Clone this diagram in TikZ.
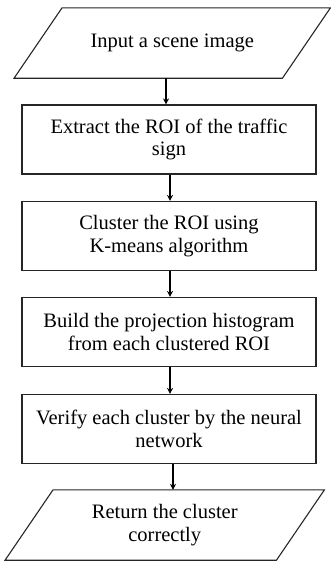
\documentclass[tikz,border=0pt]{standalone}
\usepackage{fontspec}
\setmainfont{Liberation Serif}
\usetikzlibrary{calc,arrows.meta}
\begin{document}
\begin{tikzpicture}[x=1pt,y=-1pt,
  outline/.style={draw=black!85,line width=1.1pt},
  stepbox/.style={outline,minimum width=294pt,minimum height=69pt,inner sep=0pt,align=center,font=\fontsize{20.5}{22.5}\selectfont},
  iobox/.style={minimum width=268pt,minimum height=70pt,inner sep=0pt,align=center,font=\fontsize{20.5}{22.5}\selectfont},
  arr/.style={draw=black,line width=1.1pt,-{Stealth[length=6pt,width=6pt]}}]
\useasboundingbox (0,0) rectangle (330,563);

% input / output parallelograms (text nodes carry the frame)
\node[iobox] (in) at (172.25,43) {\raisebox{-2pt}{Input a scene image}};
\draw[outline] ($(in.south west)+(-24,0)$) -- ($(in.south east)+(-24,0)$)
  -- ($(in.north east)+(24,0)$) -- ($(in.north west)+(24,0)$) -- cycle;

\node[stepbox] (s1) at (169,139.5) {Extract the ROI of the traffic\\sign};
\node[stepbox] (s2) at (169,236) {Cluster the ROI using\\K-means algorithm};
\node[stepbox] (s3) at (169,332) {Build the projection histogram\\from each clustered ROI};
\node[stepbox] (s4) at (169,429) {Verify each cluster by the neural\\network};

\node[iobox,minimum width=271pt] (out) at (164.75,525) {Return the cluster\\correctly};
\draw[outline] ($(out.south west)+(-24,0)$) -- ($(out.south east)+(-24,0)$)
  -- ($(out.north east)+(24,0)$) -- ($(out.north west)+(24,0)$) -- cycle;

% flow
\draw[arr] (in.south -| 166,0) -- (s1.north -| 166,0);
\draw[arr] (s1.south -| 170,0) -- (s2.north -| 170,0);
\draw[arr] (s2.south -| 170,0) -- (s3.north -| 170,0);
\draw[arr] (s3.south -| 170,0) -- (s4.north -| 170,0);
\draw[arr] (s4.south -| 173,0) -- (out.north -| 173,0);
\end{tikzpicture}
\end{document}
